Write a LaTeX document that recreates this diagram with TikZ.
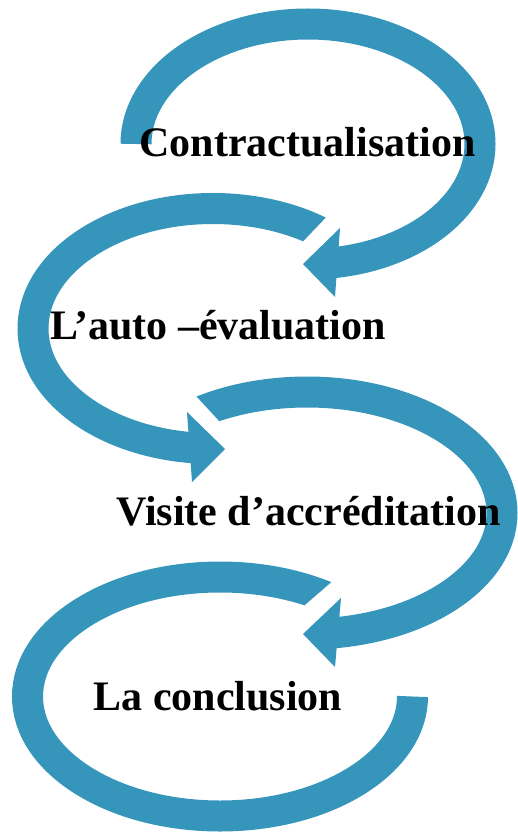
\documentclass[tikz,border=0pt]{standalone}
\usepackage{fontspec}
\setmainfont{Liberation Serif}
\usetikzlibrary{calc}
\definecolor{band}{RGB}{54,149,187}
\begin{document}
\begin{tikzpicture}[x=1pt,y=1pt,
  bandline/.style={draw=band, line width=31pt, line cap=butt},
  headfill/.style={fill=band},
  lbl/.style={font=\fontsize{42}{50}\selectfont\bfseries, inner sep=0pt, anchor=base, text=black}]
\useasboundingbox (0,0) rectangle (517,-832);

% band 1
\coordinate (c1) at (308,-144);
\draw[bandline] ($(c1)+(180:172 and 120)$) arc[start angle=180, end angle=-83, x radius=172, y radius=120];
\fill[headfill] (340,-228) -- (303,-264) -- (335,-297) -- cycle;

% band 2
\coordinate (c2) at (213,-328.5);
\begin{scope}
\clip (-10,-100) -- (438,-100) -- (270,-276) -- (270,-520) -- (-10,-520) -- cycle;
\draw[bandline] ($(c2)+(40:180 and 120)$) arc[start angle=40, end angle=265, x radius=180, y radius=120];
\end{scope}
\fill[headfill] (187,-412) -- (225,-449) -- (192,-482) -- cycle;

% band 3
\coordinate (c3) at (307,-513);
\begin{scope}
\clip (137,-332) -- (137,-290) -- (530,-290) -- (530,-700) -- (257,-700) -- (257,-462) -- cycle;
\draw[bandline] ($(c3)+(135:195 and 121)$) arc[start angle=135, end angle=-83, x radius=195, y radius=121];
\end{scope}
\fill[headfill] (341,-598) -- (303,-634) -- (335,-667) -- cycle;

% band 4
\coordinate (c4) at (220,-696.5);
\begin{scope}
\clip (380,-540) -- (276,-630) -- (380,-660) -- (520,-660) -- (520,-840) -- (-10,-840) -- (-10,-540) -- cycle;
\draw[bandline] ($(c4)+(45:192.5 and 119.5)$) arc[start angle=45, end angle=360, x radius=192.5, y radius=119.5];
\end{scope}

% labels
\node[lbl] (t1) at (307.5,-157) {Contractualisation};
\node[lbl] (t2) at (218,-339) {L’auto –évaluation};
\node[lbl] (t3) at (308.5,-525) {Visite d’accréditation};
\node[lbl] (t4) at (218,-710) {La conclusion};
\end{tikzpicture}
\end{document}
